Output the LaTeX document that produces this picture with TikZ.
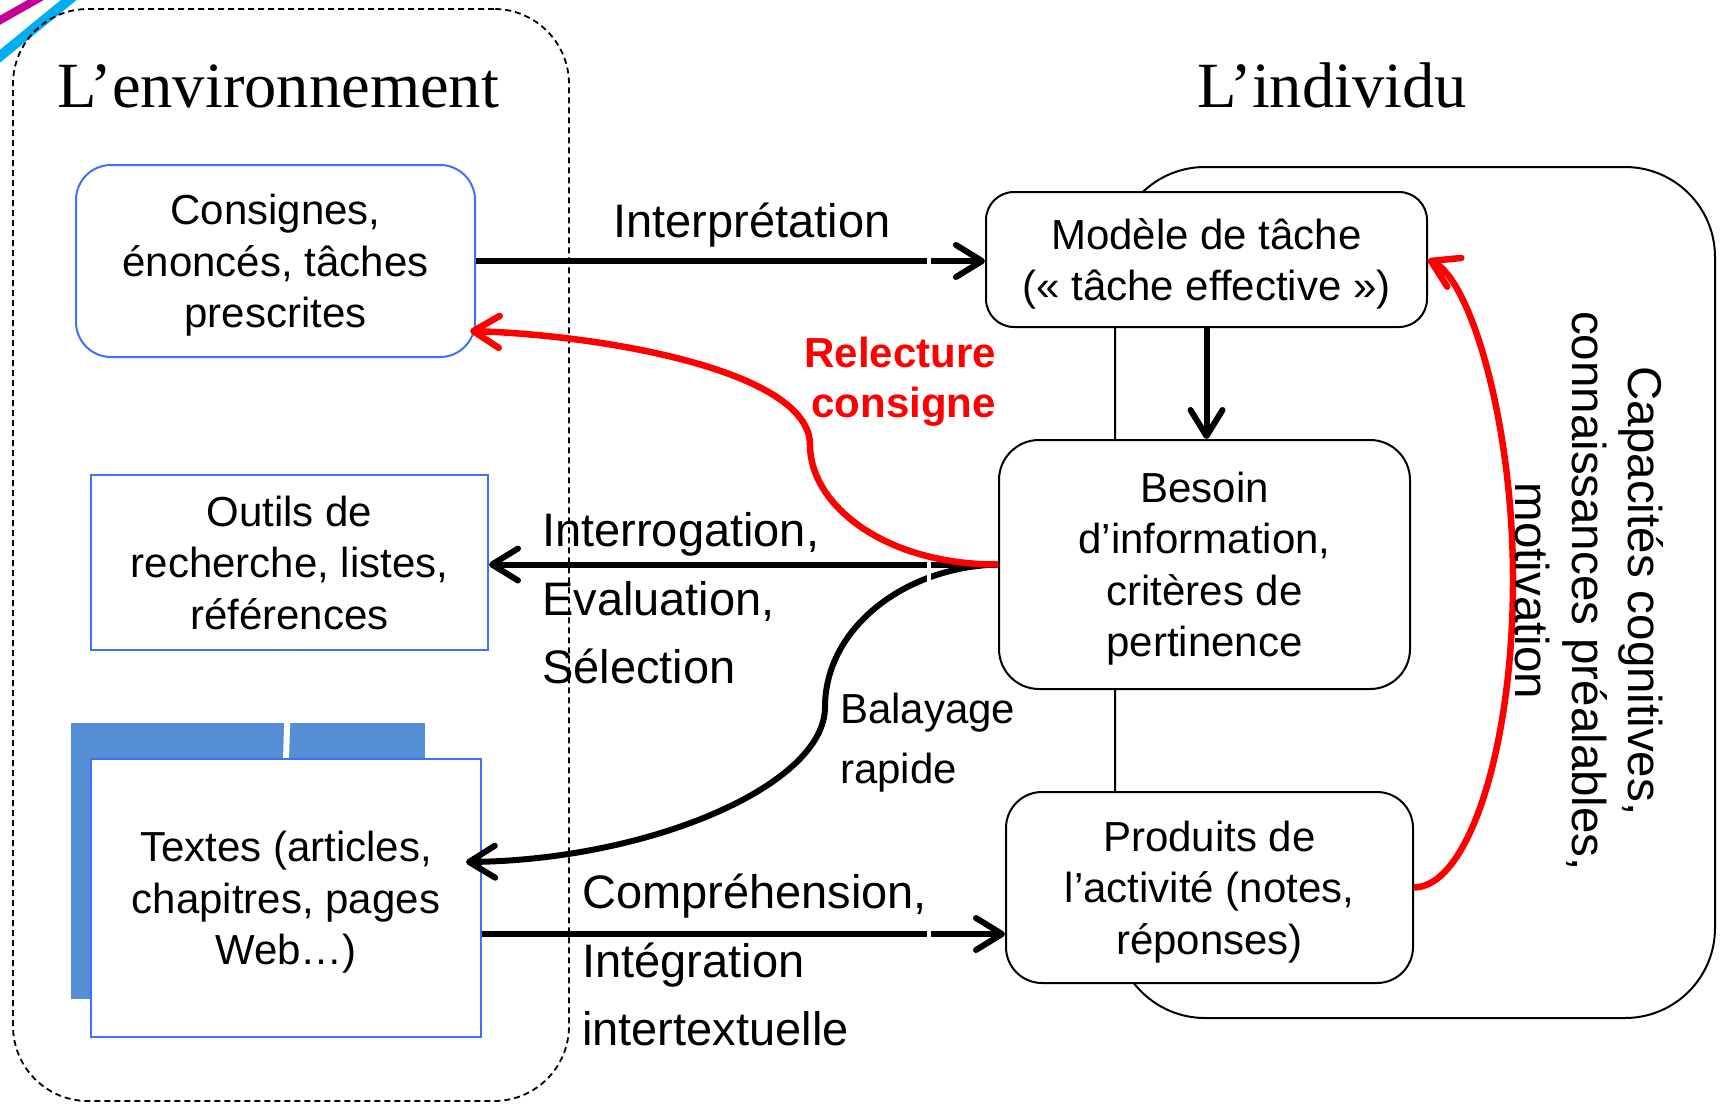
\documentclass[tikz,border=0pt]{standalone}
\usepackage{fontspec}
\setmainfont{Liberation Sans}
\newfontfamily\serifttl{Liberation Serif}
\usetikzlibrary{arrows.meta}
\definecolor{boxblue}{RGB}{62,112,248}
\definecolor{shadowblue}{RGB}{85,142,213}
\definecolor{decomag}{RGB}{196,0,150}
\definecolor{decocyan}{RGB}{0,174,239}
\definecolor{arrred}{RGB}{255,0,0}
\begin{document}
\begin{tikzpicture}[x=1pt,y=-1pt,
  boxtxt/.style={font=\fontsize{42}{51.5}\selectfont, align=center, inner sep=0pt, text depth=-2pt},
  bluebox/.style={boxtxt, draw=boxblue, line width=2pt, fill=white},
  blackbox/.style={boxtxt, draw=black, line width=2pt, fill=white},
  lbl/.style={font=\fontsize{47}{56}\selectfont, inner sep=0pt, anchor=base west},
  smalllbl/.style={font=\fontsize{42}{51}\selectfont, inner sep=0pt, anchor=base west},
  redlbl/.style={font=\fontsize{42}{51}\selectfont\bfseries, text=arrred, inner sep=0pt, anchor=base east},
  rotlbl/.style={font=\fontsize{47.5}{56}\selectfont, inner sep=0pt, rotate=-90, anchor=base},
  ttl/.style={font=\serifttl\fontsize{64.5}{72}\selectfont, inner sep=0pt, anchor=base},
  arr/.style={line width=6pt, -{Straight Barb[length=26pt,width=32pt,round]}},
  redarr/.style={arr, draw=arrred, line width=6.5pt},
]
\useasboundingbox (0,0) rectangle (1721,1103);
\clip (0,0) rectangle (1721,1103);

% decoration in the corner
\draw[decomag, line width=8pt] (-12,27) -- (48,-7);
\draw[decocyan, line width=10pt] (-12,66) -- (81,-10);

% containers
\node[draw=black, dashed, dash pattern=on 6pt off 4pt, line width=1.8pt,
      minimum width=556pt, minimum height=1092pt, rounded corners=75pt] (env) at (291,555) {};
\node[draw=black, line width=2pt, minimum width=600pt, minimum height=851pt,
      rounded corners=90pt] (indiv) at (1415,592.5) {};

% titles
\node[ttl] (ttlenv) at (278,107) {L’environnement};
\node[ttl] (ttlind) at (1332,107) {L’individu};

% environment boxes
\node[bluebox, rounded corners=35pt, minimum width=399pt, minimum height=192pt] (cons) at (275.5,261)
  {Consignes,\\énoncés, tâches\\prescrites};
\node[bluebox, minimum width=397pt, minimum height=175pt] (outils) at (289.5,562.5)
  {Outils de\\recherche, listes,\\références};
\node[fill=shadowblue, inner sep=0pt, minimum width=354pt, minimum height=276pt] (tback) at (248,861) {};
\coordinate (slit) at (286,759);
\draw[white, line width=6pt] (outils.south) -- (slit);
\node[bluebox, minimum width=390pt, minimum height=278pt] (textes) at (286,898)
  {Textes (articles,\\chapitres, pages\\Web…)};

% individual boxes
\node[blackbox, rounded corners=28pt, minimum width=441pt, minimum height=135pt] (modele) at (1206.5,259.5)
  {Modèle de tâche\\(« tâche effective »)};
\node[blackbox, rounded corners=40pt, minimum width=411pt, minimum height=249pt] (besoin) at (1204.5,564.5)
  {Besoin\\d’information,\\critères de\\pertinence};
\node[blackbox, rounded corners=36pt, minimum width=407pt, minimum height=191pt] (prod) at (1209.5,887.5)
  {Produits de\\l’activité (notes,\\réponses)};

% black connectors
\draw[arr] (cons.east) -- (cons.east -| modele.west);
\draw[arr] (modele.south) -- (modele.south |- besoin.north);
\draw[arr] (besoin.west) -- (besoin.west -| outils.east);
\draw[arr] (besoin.west) .. controls (902,567) and (825,630) .. (825,707)
  .. controls (825,785) and (650,860) .. ([xshift=-16pt,yshift=36pt]textes.east);
\draw[arr] ([yshift=-36pt]textes.east) -- ([yshift=-36pt]textes.east -| prod.west);

% thin white break across the black connectors
\coordinate (gapT) at (929,240);
\coordinate (gapB) at (929,950);
\draw[white, line width=3.5pt] (gapT) -- (gapB);

% red connectors
\draw[redarr] (besoin.west) .. controls (885,565) and (810,505) .. (810,445)
  .. controls (810,370) and (600,335) .. ([xshift=-6pt,yshift=-70pt]cons.east);
\draw[redarr] (prod.east) .. controls (1468,887) and (1513,749) .. (1513,580)
  .. controls (1513,420) and (1470,280) .. (modele.east);

% labels
\node[lbl, anchor=base] (linterp) at (752,237) {Interprétation};
\node[redlbl] (lrel1) at (996,367) {Relecture};
\node[redlbl] (lrel2) at (996,417) {consigne};
\node[lbl] (lint1) at (542,546) {Interrogation,};
\node[lbl] (lint2) at (542,615) {Evaluation,};
\node[lbl] (lint3) at (542,683) {Sélection};
\node[smalllbl] (lbal1) at (840,723) {Balayage};
\node[smalllbl] (lbal2) at (840,783) {rapide};
\node[lbl] (lcomp1) at (582,908) {Compréhension,};
\node[lbl] (lcomp2) at (582,977) {Intégration};
\node[lbl] (lcomp3) at (582,1045) {intertextuelle};
\node[rotlbl] (lcap1) at (1628,591) {Capacités cognitives,};
\node[rotlbl] (lcap2) at (1572,591) {connaissances préalables,};
\node[rotlbl] (lcap3) at (1515,591) {motivation};
\end{tikzpicture}
\end{document}
